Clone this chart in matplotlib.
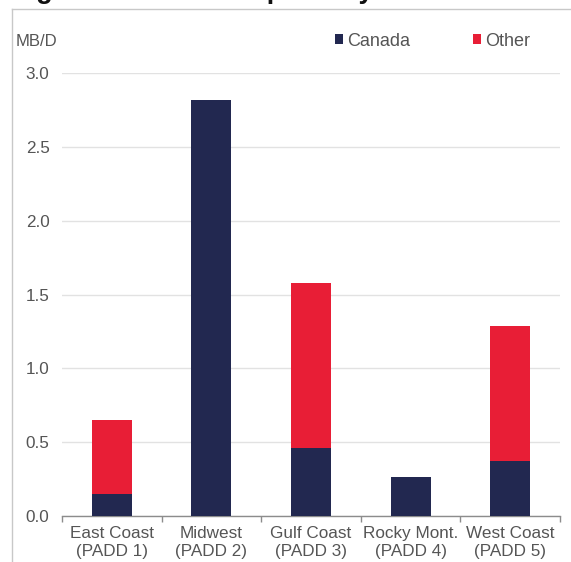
import matplotlib
matplotlib.use("Agg")
import matplotlib.pyplot as plt
from matplotlib.lines import Line2D
from matplotlib.patches import Patch
import numpy as np

plt.rcParams['font.family'] = ['Liberation Sans', 'DejaVu Sans']

regions = ["East Coast\n(PADD 1)", "Midwest\n(PADD 2)", "Gulf Coast\n(PADD 3)",
           "Rocky Mont.\n(PADD 4)", "West Coast\n(PADD 5)"]
canada = [0.15, 2.82, 0.46, 0.265, 0.37]
other = [0.50, 0.0, 1.12, 0.0, 0.92]
series_names = ["Canada", "Other"]
y_ticks = [0.0, 0.5, 1.0, 1.5, 2.0, 2.5, 3.0]

navy = "#222850"
red = "#e81e36"
text_gray = "#555555"

W, H = 571, 562
fig = plt.figure(figsize=(W / 100, H / 100), dpi=100)

ax = fig.add_axes([62 / W, 1 - 516 / H, (560 - 62) / W, (516 - 73) / H])

x = np.arange(len(regions))
ax.bar(x, canada, width=0.4, color=navy, linewidth=0, zorder=3)
ax.bar(x, other, width=0.4, bottom=canada, color=red, linewidth=0, zorder=3)

ax.set_xlim(-0.5, len(regions) - 0.5)
ax.set_ylim(0, 3.0)
ax.set_yticks(y_ticks)
ax.set_yticklabels([f"{v:.1f}" for v in y_ticks])
ax.yaxis.grid(True, color="#e2e2e2", linewidth=1.0, zorder=0)
ax.set_axisbelow(True)

ax.set_xticks(x)
ax.set_xticklabels(regions, linespacing=1.25)
ax.set_xticks(np.arange(-0.5, len(regions)), minor=True)
ax.tick_params(axis="x", which="major", length=0, pad=7, labelsize=12.3,
               labelcolor=text_gray)
ax.tick_params(axis="x", which="minor", length=4, width=1, color="#8c8c8c")
ax.tick_params(axis="y", length=0, pad=9, labelsize=12.3, labelcolor=text_gray)

for side in ("top", "right", "left"):
    ax.spines[side].set_visible(False)
ax.spines["bottom"].set_color("#8c8c8c")
ax.spines["bottom"].set_linewidth(1.0)

# unit label and legend
fig.text(16 / W, 1 - 41 / H, "MB/D", fontsize=12, color=text_gray,
         ha="left", va="center")
handles = [Patch(facecolor=navy, edgecolor="none"), Patch(facecolor=red, edgecolor="none")]
fig.legend(handles, series_names, ncol=2, frameon=False, fontsize=13,
           labelcolor=text_gray, handlelength=0.45, handleheight=0.45,
           handletextpad=0.22, columnspacing=3.5,
           loc="center left", bbox_to_anchor=(335 / W, 1 - 41 / H),
           borderaxespad=0, borderpad=0)

# page frame and heading running off the top edge
fig.add_artist(Line2D([11.5 / W, 1.0], [1 - 9.3 / H, 1 - 9.3 / H],
                      transform=fig.transFigure, color="#c8c8c8", linewidth=1.0))
fig.add_artist(Line2D([11.5 / W, 11.5 / W], [1 - 9.3 / H, 0.0],
                      transform=fig.transFigure, color="#c8c8c8", linewidth=1.0))
fig.text(12 / W, 1 + 1.5 / H, "Figure 12: Crude Imports by PADD", fontsize=19.5,
         fontweight="bold", color="#111111", ha="left", va="baseline")

fig.savefig("out.png", dpi=100)
